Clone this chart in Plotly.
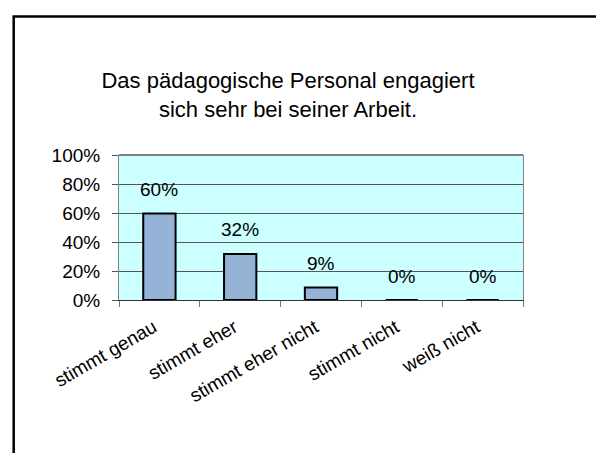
import plotly.graph_objects as go

categories = ["stimmt genau", "stimmt eher", "stimmt eher nicht", "stimmt nicht", "weiß nicht"]
values = [0.596, 0.318, 0.086, 0.0, 0.0]
y_tickvals = [0, 0.2, 0.4, 0.6, 0.8, 1.0]
y_ticktext = ["0%", "20%", "40%", "60%", "80%", "100%"]
title_text = "Das pädagogische Personal engagiert<br>sich sehr bei seiner Arbeit."

FONT = "Liberation Sans, Arial, sans-serif"

L, R, T, B = 111, 89, 147, 161
PW, PH = 604 - L - R, 453 - T - B

fig = go.Figure()
fig.add_trace(go.Bar(
    x=categories, y=values, width=0.4,
    marker=dict(color="#95B3D7", line=dict(color="black", width=2)),
    hoverinfo="skip",
))

annotations = [
    dict(x=c, y=v, xref="x", yref="y", text=f"{round(v*100):.0f}%", showarrow=False,
         yshift=24, font=dict(family=FONT, size=19, color="black"))
    for c, v in zip(categories, values)
]

fig.update_layout(
    width=604, height=453,
    margin=dict(l=L, r=R, t=T, b=B, pad=0),
    paper_bgcolor="white",
    plot_bgcolor="#CCFFFF",
    showlegend=False,
    title=dict(text=title_text, x=280/604, xanchor="center", xref="container",
               y=1 - 80/453, yanchor="middle", yref="container",
               font=dict(family=FONT, size=22, color="black")),
    annotations=annotations,
)
fig.update_yaxes(
    range=[0, 1], tickvals=y_tickvals, ticktext=y_ticktext,
    showgrid=True, gridcolor="#555555", gridwidth=1,
    showline=True, linecolor="#808080", linewidth=1, mirror=True,
    ticks="outside", ticklen=6, tickcolor="#555555",
    ticklabelstandoff=8,
    tickfont=dict(family=FONT, size=19, color="black"),
    zeroline=False, fixedrange=True,
)
fig.update_xaxes(
    showline=True, linecolor="#333333", linewidth=1,
    ticks="outside", ticklen=6, tickcolor="#777777", tickson="boundaries",
    tickangle=-30, ticklabelstandoff=8, ticklabelshift=-6,
    tickfont=dict(family=FONT, size=19, color="black"),
    fixedrange=True,
)
# top border of plot area
fig.add_shape(type="line", xref="x domain", yref="y domain", x0=0, x1=1, y0=1, y1=1,
              line=dict(color="#808080", width=2))
# outer chart frame (extends beyond bottom)
fig.add_shape(type="rect", xref="paper", yref="paper",
              x0=(5.7 - L) / PW, x1=(600 - L) / PW,
              y0=-(540 - (453 - B)) / PH, y1=1 + (T - 8.5) / PH,
              line=dict(color="black", width=2.5), fillcolor="rgba(0,0,0,0)", layer="above")

fig.write_html("out.html")
